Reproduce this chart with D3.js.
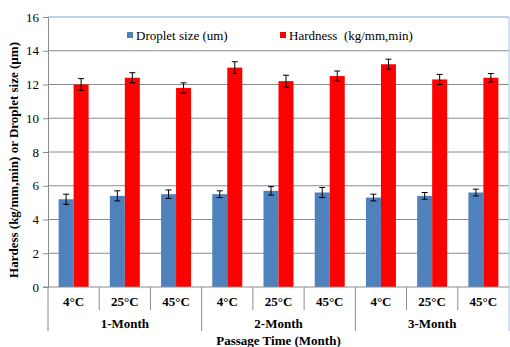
<!DOCTYPE html>
<html>
<head>
<meta charset="utf-8">
<script src="https://cdn.jsdelivr.net/npm/d3@7"></script>
<style>
  body { margin: 0; background: #fff; }
  svg text { font-family: 'Liberation Serif', 'Times New Roman', Times, serif !important; }
</style>
</head>
<body>
<div id="chart"></div>
<script>
// Data
const temps = ["4°C", "25°C", "45°C", "4°C", "25°C", "45°C", "4°C", "25°C", "45°C"];
const months = ["1-Month", "2-Month", "3-Month"];
const droplet = [5.2, 5.4, 5.5, 5.5, 5.7, 5.6, 5.3, 5.4, 5.6];
const dropletErr = [0.3, 0.3, 0.25, 0.2, 0.25, 0.3, 0.2, 0.2, 0.2];
const hardness = [12.0, 12.4, 11.8, 13.0, 12.2, 12.5, 13.2, 12.3, 12.4];
const hardnessErr = [0.35, 0.3, 0.3, 0.35, 0.35, 0.3, 0.3, 0.3, 0.25];
const yTicks = [0, 2, 4, 6, 8, 10, 12, 14, 16];

const W = 510, H = 347;
const plotLeft = 48, plotRight = 509, plotTop = 17, plotBottom = 287;
const serif = "'Liberation Serif', 'Times New Roman', serif";

const svg = d3.select("#chart").append("svg")
    .attr("width", W)
    .attr("height", H)
    .style("font-family", serif);

const x = d3.scaleBand()
    .domain(d3.range(temps.length))
    .range([plotLeft, plotRight]);

const y = d3.scaleLinear()
    .domain([0, 16])
    .range([plotBottom, plotTop]);

// gridlines
svg.append("g")
    .selectAll("line")
    .data(yTicks.slice(1, -1))
    .join("line")
    .attr("x1", plotLeft).attr("x2", plotRight)
    .attr("y1", d => y(d)).attr("y2", d => y(d))
    .attr("stroke", "#8c8c8c")
    .attr("stroke-width", 1);

// plot border top + right (blue-ish)
svg.append("line")
    .attr("x1", plotLeft).attr("x2", plotRight)
    .attr("y1", y(16)).attr("y2", y(16))
    .attr("stroke", "#7ea6d8").attr("stroke-width", 1);
svg.append("line")
    .attr("x1", plotRight).attr("x2", plotRight)
    .attr("y1", y(16)).attr("y2", 331)
    .attr("stroke", "#a9c4e6").attr("stroke-width", 1);

// y axis
const yAxis = svg.append("g")
    .attr("transform", `translate(${plotLeft},0)`)
    .call(d3.axisLeft(y).tickValues(yTicks).tickSize(5).tickPadding(4));
yAxis.attr("font-family", null);
yAxis.select(".domain").attr("stroke", "#8c8c8c");
yAxis.selectAll(".tick line").attr("stroke", "#8c8c8c");
yAxis.selectAll(".tick text")
    .style("font-family", serif)
    .attr("font-size", 13)
    .attr("fill", "#000");

// bars
const bw = 15;
const center = i => x(i) + x.bandwidth() / 2;

svg.append("g")
    .selectAll("rect")
    .data(droplet)
    .join("rect")
    .attr("x", (d, i) => center(i) - bw)
    .attr("y", d => y(d))
    .attr("width", bw)
    .attr("height", d => y(0) - y(d))
    .attr("fill", "#4f81bd");

svg.append("g")
    .selectAll("rect")
    .data(hardness)
    .join("rect")
    .attr("x", (d, i) => center(i))
    .attr("y", d => y(d))
    .attr("width", bw)
    .attr("height", d => y(0) - y(d))
    .attr("fill", "#ff0000");

// error bars
function errorBars(vals, errs, offset) {
    const g = svg.append("g").attr("stroke", "#000").attr("stroke-width", 1);
    vals.forEach((v, i) => {
        const cx = center(i) + offset;
        g.append("line").attr("x1", cx).attr("x2", cx)
            .attr("y1", y(v + errs[i])).attr("y2", y(v - errs[i]));
        g.append("line").attr("x1", cx - 3).attr("x2", cx + 3)
            .attr("y1", y(v + errs[i])).attr("y2", y(v + errs[i]));
        g.append("line").attr("x1", cx - 3).attr("x2", cx + 3)
            .attr("y1", y(v - errs[i])).attr("y2", y(v - errs[i]));
    });
}
errorBars(droplet, dropletErr, -bw / 2);
errorBars(hardness, hardnessErr, bw / 2);

// x axis baseline and category dividers
svg.append("line")
    .attr("x1", plotLeft - 5).attr("x2", plotRight)
    .attr("y1", y(0)).attr("y2", y(0))
    .attr("stroke", "#8c8c8c");

const divs = d3.range(temps.length);
svg.append("g")
    .selectAll("line")
    .data(divs)
    .join("line")
    .attr("x1", i => x(i))
    .attr("x2", i => x(i))
    .attr("y1", y(0))
    .attr("y2", i => (i % 3 === 0) ? 331 : 310)
    .attr("stroke", "#8c8c8c");

svg.append("g")
    .selectAll("text")
    .data(temps)
    .join("text")
    .attr("x", (d, i) => center(i))
    .attr("y", 306)
    .attr("text-anchor", "middle")
    .attr("font-size", 13)
    .attr("font-weight", "bold")
    .text(d => d);

svg.append("g")
    .selectAll("text")
    .data(months)
    .join("text")
    .attr("x", (d, i) => (x(i * 3) + (i * 3 + 3 < temps.length ? x(i * 3 + 3) : plotRight)) / 2)
    .attr("y", 328)
    .attr("text-anchor", "middle")
    .attr("font-size", 13)
    .attr("font-weight", "bold")
    .text(d => d);

// axis titles
svg.append("text")
    .attr("x", (plotLeft + plotRight) / 2)
    .attr("y", 345)
    .attr("text-anchor", "middle")
    .attr("font-size", 13)
    .attr("font-weight", "bold")
    .text("Passage Time (Month)");

svg.append("text")
    .attr("transform", `translate(18,${(plotTop + plotBottom) / 2 + 8}) rotate(-90)`)
    .attr("text-anchor", "middle")
    .attr("font-size", 13)
    .attr("font-weight", "bold")
    .text("Hardess (kg/mm,min) or Droplet size (µm)");

// legend
const legend = [
    { label: "Droplet size (um)", color: "#4f81bd", x: 127 },
    { label: "Hardness  (kg/mm,min)", color: "#ff0000", x: 280 }
];
const lg = svg.append("g");
legend.forEach(l => {
    lg.append("rect")
        .attr("x", l.x).attr("y", 32)
        .attr("width", 6).attr("height", 6)
        .attr("fill", l.color);
    lg.append("text")
        .attr("x", l.x + 9).attr("y", 40)
        .attr("font-size", 13)
        .style("white-space", "pre")
        .text(l.label);
});
</script>
</body>
</html>
